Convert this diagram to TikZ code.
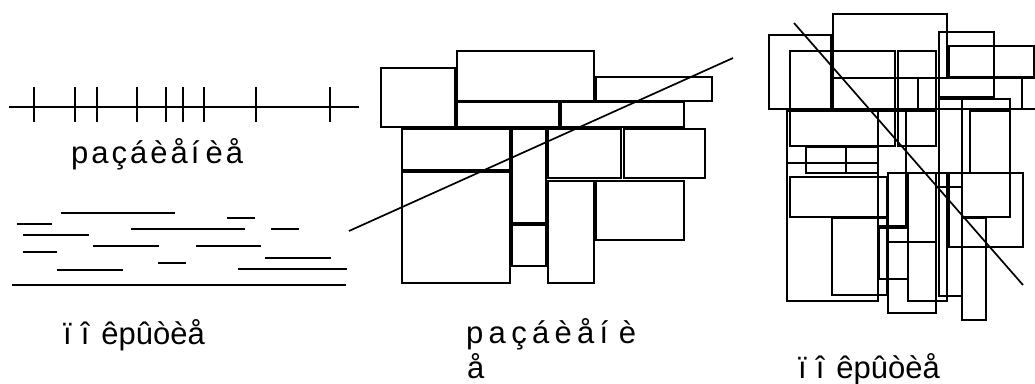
\documentclass[tikz,border=0pt]{standalone}
\usepackage{fontspec}
\setmainfont{Liberation Sans}
\begin{document}
\begin{tikzpicture}[x=1pt,y=-1pt,
  ln/.style={line width=2pt,line cap=rect},
  bx/.style={line width=2pt},
  lbl/.style={inner sep=0pt,anchor=base west,font=\fontsize{31}{36}\selectfont}]
\useasboundingbox (0,0) rectangle (1035,383);
% ---- left: partition of a line
\draw[ln] (10,107) -- (358,107);
\foreach \x in {34,75,97,137,166,183,204,256,330}
  \draw[ln] (\x,88) -- (\x,121);
\node[lbl] (l1) at (71,163) {\hbox to 172pt{p\hfil a\hfil ç\hfil á\hfil è\hfil å\hfil í\hfil\hfil è\hfil å}};
% ---- left: covering of a line
\foreach \xa/\xb/\y in {62/174/212.7, 228/254/218.3, 18/51/224, 132/244/229.3, 272/298/229.3,
  24/88/235, 94/158/246.3, 197/260/246.3, 24/56/252, 266/330/257.7, 159/185/263,
  239/346/268.7, 58/122/270, 13/345/285.3}
  \draw[ln] (\xa,\y) -- (\xb,\y);
\node[lbl] (l2) at (63,344) {ï\hspace{9pt}î\hspace{12pt}êpûòèå};
% ---- middle: partition of a square
\foreach \xa/\ya/\xb/\yb in {380.7/68.3/455.3/126.7, 457/50.7/593.7/101, 596.3/77/712/101,
  457/102.3/558.7/126.7, 561/102.3/683.7/126.7, 401.7/128.7/510.3/170,
  512.3/128.7/545.7/223.3, 547.7/128.7/621/178.3, 623.7/128.7/705/178.3,
  401.7/172/510.3/283.3, 512.3/225.3/545.7/265.7, 547.7/181.3/594.3/283.3,
  596.3/181.3/684/239.7}
  \draw[bx] (\xa,\ya) rectangle (\xb,\yb);
\coordinate (d1a) at (349,231);
\coordinate (d1b) at (733,58);
\draw[line width=1.7pt] (d1a) -- (d1b);
\node[lbl] (l3) at (466,343) {\hbox to 170pt{p\hfil a\hfil ç\hfil á\hfil è\hfil å\hfil í\hfil\hfil è}};
\node[lbl] (l3b) at (467,378) {å};
% ---- right: covering of a square
\foreach \xa/\ya/\xb/\yb in {769/35/831/109, 833/14/947/78, 790/51/895/146, 898/51/936/146,
  939/32/994/97, 949/46/1034/77, 833/78/918/109, 918/78/1022/109, 1022/78/1040/109,
  787/111/878/301, 878/111/906/226, 906/111/936/146, 908/173/947/301,
  806/147/846/173, 846/147/878/173, 787/163/878/301, 790/177/887/217,
  832/218/887/295, 879/228/908/279, 888/173/936/313, 888/242/936/313,
  939/99/962/296, 962/99/1010/217, 970/111/1010/173, 949/173/1023/247,
  962/218/986/320, 939/187/962/296}
  \draw[bx] (\xa,\ya) rectangle (\xb,\yb);
\coordinate (d2a) at (794,23);
\coordinate (d2b) at (1023,285);
\draw[line width=1.7pt] (d2a) -- (d2b);
\node[lbl] (l4) at (798,378) {ï\hspace{9pt}î\hspace{12pt}êpûòèå};
\end{tikzpicture}
\end{document}
